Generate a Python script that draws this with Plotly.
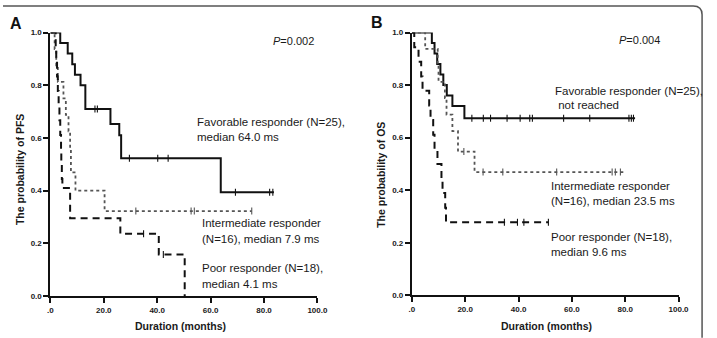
import plotly.graph_objects as go

W, H = 717, 338

# ---------------- data ----------------
# Panel A: PFS (months) -- step curves: time of step, survival after step
A_fav_t = [0, 3.7, 6.5, 8.2, 9.2, 11.3, 13.1, 22.5, 25.8, 26.5, 63.8, 83.7]
A_fav_s = [1.0, 0.96, 0.92, 0.88, 0.84, 0.80, 0.71, 0.653, 0.61, 0.523, 0.394, 0.394]
A_fav_ct = [16.7, 17.6, 29.6, 40.2, 44.1, 69.3, 82.1, 83.3]
A_fav_cs = [0.71, 0.71, 0.523, 0.523, 0.523, 0.394, 0.394, 0.394]

A_int_t = [0, 1.6, 2.2, 2.8, 4.9, 5.8, 6.8, 7.4, 7.7, 9.4, 20.3, 75.4]
A_int_s = [1.0, 0.9375, 0.875, 0.8125, 0.75, 0.6875, 0.625, 0.5625, 0.469, 0.40, 0.3225, 0.3225]
A_int_ct = [32.0, 52.7, 53.9, 75.4]
A_int_cs = [0.3225, 0.3225, 0.3225, 0.3225]

A_poor_t = [0, 2.0, 2.2, 2.5, 2.8, 3.1, 3.4, 3.7, 4.0, 4.1, 4.3, 4.5, 7.4, 26.2, 40.6, 50.3]
A_poor_s = [1.0, 0.944, 0.889, 0.833, 0.778, 0.722, 0.667, 0.611, 0.556, 0.5, 0.444, 0.41, 0.295, 0.236, 0.158, 0.0]
A_poor_ct = [34.9, 42.3]
A_poor_cs = [0.236, 0.158]

# Panel B: OS (months)
B_fav_t = [0, 7.5, 8.5, 9.5, 10.7, 11.8, 13.1, 15.2, 19.7, 83.7]
B_fav_s = [1.0, 0.96, 0.92, 0.88, 0.84, 0.80, 0.76, 0.72, 0.674, 0.674]
B_fav_ct = [22.5, 26.8, 29.5, 35.7, 40.6, 44.2, 45.2, 56.9, 66.7, 81.4, 82.3, 83.1]
B_fav_cs = [0.674] * 12

B_int_t = [0, 5.0, 9.7, 10.0, 12.4, 13.0, 15.2, 17.3, 23.5, 79.8]
B_int_s = [1.0, 0.9375, 0.875, 0.8125, 0.75, 0.6875, 0.625, 0.547, 0.469, 0.469]
B_int_ct = [19.5, 26.7, 34.1, 54.3, 75.1, 76.3, 78.2]
B_int_cs = [0.547, 0.469, 0.469, 0.469, 0.469, 0.469, 0.469]

B_poor_t = [0, 0.9, 2.5, 3.5, 4.0, 6.5, 7.0, 8.0, 8.5, 9.6, 11.1, 11.5, 12.5, 12.8, 51.2]
B_poor_s = [1.0, 0.944, 0.889, 0.833, 0.778, 0.722, 0.667, 0.611, 0.556, 0.5, 0.444, 0.389, 0.333, 0.278, 0.278]
B_poor_ct = [34.7, 39.6, 42.0, 51.2]
B_poor_cs = [0.278] * 4

x_tickvals = [0, 20, 40, 60, 80, 100]
x_ticktext = [".0", "20.0", "40.0", "60.0", "80.0", "100.0"]
y_tickvals = [0, 0.2, 0.4, 0.6, 0.8, 1.0]
y_ticktext = ["0.0", "0.2", "0.4", "0.6", "0.8", "1.0"]

# ---------------- figure ----------------
FONT = "Liberation Sans, Arial, sans-serif"
TXT = "#1a1a1a"

def px(x):
    return x / W

def py(y):
    return 1 - y / H

fig = go.Figure()

styles = {
    "fav": dict(color="#111111", width=2.0, dash="solid"),
    "int": dict(color="#555555", width=1.8, dash="dot"),
    "poor": dict(color="#111111", width=2.0, dash="7px,5px"),
}

panels = [
    ("x", "y", [("fav", A_fav_t, A_fav_s, A_fav_ct, A_fav_cs),
                ("int", A_int_t, A_int_s, A_int_ct, A_int_cs),
                ("poor", A_poor_t, A_poor_s, A_poor_ct, A_poor_cs)]),
    ("x2", "y2", [("fav", B_fav_t, B_fav_s, B_fav_ct, B_fav_cs),
                  ("int", B_int_t, B_int_s, B_int_ct, B_int_cs),
                  ("poor", B_poor_t, B_poor_s, B_poor_ct, B_poor_cs)]),
]

for xa, ya, curves in panels:
    for key, t, s, ct, cs in curves:
        st = styles[key]
        fig.add_trace(go.Scatter(
            x=t, y=s, mode="lines", line_shape="hv",
            line=dict(color=st["color"], width=st["width"], dash=st["dash"]),
            xaxis=xa, yaxis=ya, cliponaxis=False, showlegend=False, hoverinfo="skip"))
        fig.add_trace(go.Scatter(
            x=ct, y=cs, mode="markers",
            marker=dict(symbol="line-ns", size=5,
                        line=dict(color=st["color"], width=1.1)),
            xaxis=xa, yaxis=ya, cliponaxis=False, showlegend=False, hoverinfo="skip"))

axis_common = dict(
    showline=True, linecolor="#111111", linewidth=2,
    ticks="outside", ticklen=5, tickwidth=1.5, tickcolor="#111111",
    showgrid=False, zeroline=False, mirror=False,
    tickfont=dict(family=FONT, size=8, color=TXT),
)

x_text = ["<b>%s</b>" % t for t in x_ticktext]
y_text = ["<b>%s</b>" % t for t in y_ticktext]

ybot, ytop = py(300), py(29.3)
fig.update_layout(
    width=W, height=H,
    margin=dict(l=0, r=0, t=0, b=0),
    paper_bgcolor="white", plot_bgcolor="white",
    xaxis=dict(domain=[px(48.3), px(320.7)], range=[0, 100], anchor="y",
               tickvals=x_tickvals, ticktext=x_text, **axis_common),
    yaxis=dict(domain=[ybot, ytop], range=[0, 1], anchor="x",
               tickvals=y_tickvals, ticktext=y_text, **axis_common),
    xaxis2=dict(domain=[px(417), px(689)], range=[0, 100], anchor="y2",
                tickvals=x_tickvals, ticktext=x_text, **axis_common),
    yaxis2=dict(domain=[py(299.3), ytop], range=[0, 1], anchor="x2",
                tickvals=y_tickvals, ticktext=y_text, **axis_common),
)

def ann(text, x, y, size=11.5, xanchor="left", bold=False, angle=0, color=TXT):
    fig.add_annotation(
        text=("<b>%s</b>" % text) if bold else text,
        x=px(x), y=py(y), xref="paper", yref="paper",
        xanchor=xanchor, yanchor="middle", showarrow=False, textangle=angle,
        font=dict(family=FONT, size=size, color=color))

# panel letters
ann("A", 5, 20, size=16, bold=True, color="#111111")
ann("B", 373, 19, size=16, bold=True, color="#111111")
# p values
ann("<i>P</i>=0.002", 273, 38, size=11)
ann("<i>P</i>=0.004", 626, 37, size=11)
# group labels A
ann("Favorable responder (N=25),", 196, 121.5)
ann("median 64.0 ms", 196, 137)
ann("Intermediate responder", 201, 225.5)
ann("(N=16), median 7.9 ms", 201, 241.5)
ann("Poor responder (N=18),", 201, 271.5)
ann("median 4.1 ms", 201, 287.5)
# group labels B
ann("Favorable responder (N=25),", 561, 89.5)
ann(" not reached", 561, 103.5)
ann("Intermediate responder", 557, 186.5)
ann("(N=16), median 23.5 ms", 557, 202.5)
ann("Poor responder (N=18),", 557, 239)
ann("median 9.6 ms", 557, 254.5)
# axis titles
ann("Duration (months)", 181.5, 330.5, size=10.5, xanchor="center", bold=True)
ann("Duration (months)", 554, 330.5, size=10.5, xanchor="center", bold=True)
ann("The probability of PFS", 18, 170, size=10.5, xanchor="center", bold=True, angle=-90)
ann("The probability of OS", 386, 175, size=10.5, xanchor="center", bold=True, angle=-90)

# outer frame (top and right edges with rounded corner)
x0, yt, xr, r = 0, 2, 713, 9
fig.add_shape(type="path", xref="paper", yref="paper",
              path="M %f,%f L %f,%f Q %f,%f %f,%f L %f,%f" % (
                  px(x0), py(yt), px(xr - r), py(yt), px(xr), py(yt),
                  px(xr), py(yt + r), px(xr), py(H + 5)),
              line=dict(color="#555555", width=1.5))

fig.write_html("out.html")
